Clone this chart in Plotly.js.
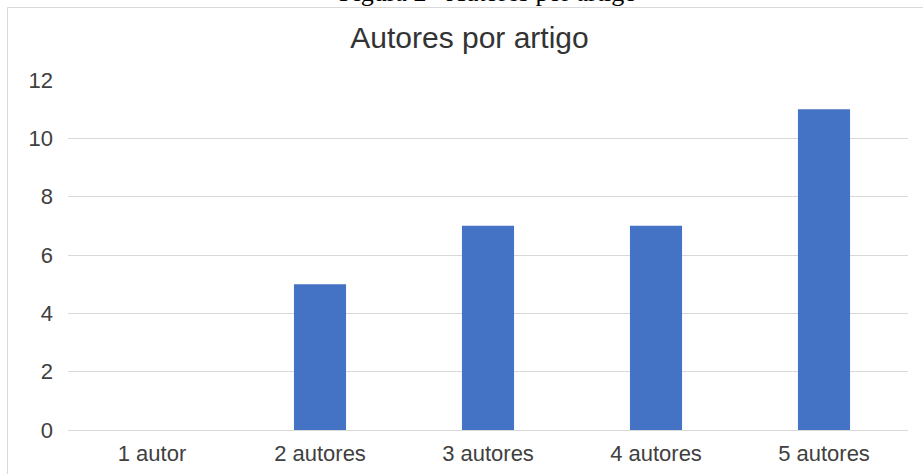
<!DOCTYPE html>
<html>
<head>
<meta charset="utf-8">
<script src="https://cdn.plot.ly/plotly-3.0.1.min.js"></script>
<style>
  html, body { margin: 0; padding: 0; background: #ffffff; }
  #chart { width: 923px; height: 474px; }
</style>
</head>
<body>
<div id="chart"></div>
<script>
const categories = ["1 autor", "2 autores", "3 autores", "4 autores", "5 autores"];
const values = [0, 5, 7, 7, 11];
const yTicks = [0, 2, 4, 6, 8, 10, 12];
const chartTitle = "Autores por artigo";
const caption = "Figura 2 - Autores por artigo";

const L = 68, R = 908, T = 80, B = 430;
const W = 923, H = 474;
const px = x => (x - L) / (R - L);
const py = y => (B - y) / (B - T);

const trace = {
  type: "bar",
  x: categories,
  y: values,
  marker: { color: "#4472C4" },
  hoverinfo: "x+y"
};

const layout = {
  width: W,
  height: H,
  margin: { l: L, r: W - R, t: T, b: H - B, pad: 0 },
  paper_bgcolor: "#ffffff",
  plot_bgcolor: "#ffffff",
  showlegend: false,
  bargap: 0.69,
  font: { family: "Liberation Sans, Arial, sans-serif", color: "#595959" },
  title: {
    text: chartTitle,
    font: { family: "Liberation Sans, Arial, sans-serif", size: 30, color: "#333333" },
    xref: "paper",
    x: px(469.5),
    xanchor: "center",
    yref: "container",
    y: 1 - 37 / H,
    yanchor: "middle"
  },
  xaxis: {
    type: "category",
    showgrid: false,
    showline: false,
    zeroline: false,
    ticks: "",
    tickfont: { size: 22, color: "#404040" },
    ticklabelstandoff: 8
  },
  yaxis: {
    range: [0, 12],
    tickvals: yTicks,
    ticktext: yTicks.map(String),
    showgrid: true,
    gridcolor: "#d9d9d9",
    gridwidth: 1,
    zeroline: true,
    zerolinecolor: "#d9d9d9",
    zerolinewidth: 1,
    showline: false,
    ticks: "",
    tickfont: { size: 22, color: "#404040" },
    ticklabelstandoff: 14
  },
  shapes: [{
    type: "rect",
    xref: "paper", yref: "paper",
    x0: px(7.5), x1: px(940),
    y0: py(490), y1: py(7.5),
    line: { color: "#d9d9d9", width: 1 },
    fillcolor: "rgba(0,0,0,0)",
    layer: "below"
  }],
  annotations: [{
    text: caption,
    xref: "paper", yref: "paper",
    x: px(487.5), y: py(9.5),
    xanchor: "center", yanchor: "bottom",
    showarrow: false,
    font: { family: "Liberation Serif, Times New Roman, serif", size: 26, color: "#000000" }
  }]
};

Plotly.newPlot("chart", [trace], layout, { displayModeBar: false, staticPlot: true });
</script>
</body>
</html>
